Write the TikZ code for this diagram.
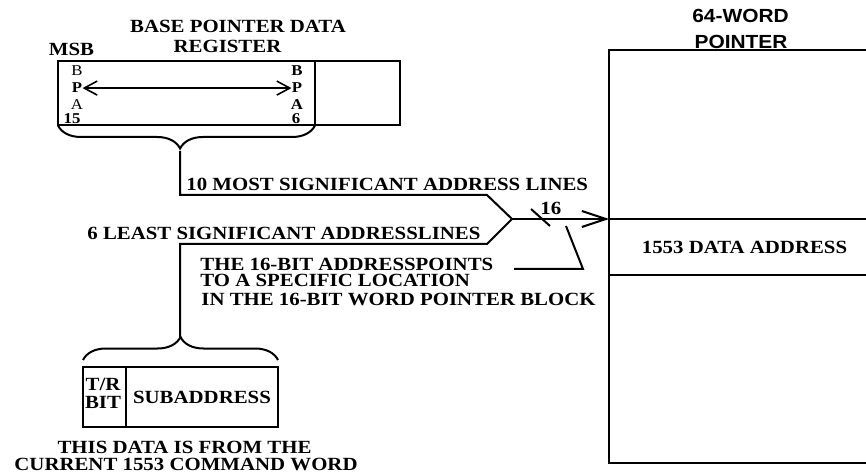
\documentclass[tikz,border=0pt]{standalone}
\usepackage{fontspec}
\setmainfont{Liberation Serif}[FakeStretch=1.12]
\setsansfont{Liberation Sans}[FakeStretch=1.1]
\usetikzlibrary{positioning}
\usetikzlibrary{calc}
\usetikzlibrary{arrows.meta}
\usetikzlibrary{decorations.pathreplacing}

\tikzset{
	box/.style={draw, line width=1pt, inner sep=0pt, outer sep=0pt},
	lbl/.style={font=\fontsize{9.3}{11}\selectfont\bfseries, inner sep=0pt},
	hdr/.style={font=\fontsize{9.5}{11}\selectfont\sffamily\bfseries, inner sep=0pt},
	bit/.style={font=\fontsize{7.5}{9}\selectfont, inner sep=0pt},
	wire/.style={line width=1pt},
	brc/.style={line width=1pt, decorate, decoration={brace, amplitude=11.5pt}}
}

\begin{document}
\begin{tikzpicture}[x=0.5pt,y=-0.5pt]
	\useasboundingbox (0,0) rectangle (866,475);

	% base pointer data register
	\node[box, minimum width=128.5pt, minimum height=32pt] (regA) at (186.5,93.5) {};
	\node[box, minimum width=42.5pt, minimum height=32pt, right=0pt of regA] (regB) {};
	\node[lbl, anchor=base] (regtitle) at (238,33) {BASE POINTER DATA};
	\node[lbl, anchor=base] (regtitleb) at (227.5,53) {REGISTER};
	\node[lbl, anchor=base] (msb) at (71.5,56) {MSB};

	\node[bit, anchor=base] (bpaB) at (77,76) {B};
	\node[bit, anchor=base] (bpaP) at (77,93) {\bfseries P};
	\node[bit, anchor=base] (bpaA) at (77,110) {A};
	\node[bit, anchor=base] (bpaN) at (72,124) {\bfseries 15};
	\node[bit, anchor=base] (bpbB) at (297,76) {\bfseries B};
	\node[bit, anchor=base] (bpbP) at (297,93) {\bfseries P};
	\node[bit, anchor=base] (bpbA) at (297,110) {\bfseries A};
	\node[bit, anchor=base] (bpbN) at (296,124) {\bfseries 6};
	\draw[wire, line width=0.8pt, {Straight Barb[length=6.5pt,width=7pt]}-{Straight Barb[length=6.5pt,width=7pt]}] (bpaP.east) -- (bpbP.west);

	% 64-word pointer block
	\node[box, minimum width=135.5pt, minimum height=84.5pt] (ptrtop) at (744.5,134.5) {};
	\node[box, lbl, minimum width=135.5pt, minimum height=28pt, below=0pt of ptrtop] (dataaddr) {1553 DATA ADDRESS};
	\node[box, minimum width=135.5pt, minimum height=94pt, below=0pt of dataaddr] (ptrbot) {};
	\node[hdr, anchor=base] (ptrtitle) at (740.5,23) {64-WORD};
	\node[hdr, anchor=base] (ptrtitleb) at (741,49) {POINTER};

	% command word
	\node[box, minimum width=21.5pt, minimum height=30pt] (trbit) at (104.5,397) {};
	\node[box, lbl, minimum width=76pt, minimum height=30pt, right=0pt of trbit] (subaddr) {SUBADDRESS};
	\node[lbl, anchor=base] (trtxt) at (103,390) {T/R};
	\node[lbl, anchor=base] (bittxt) at (103,408) {BIT};
	\node[lbl, anchor=base] (cmdtxt) at (184.5,453) {THIS DATA IS FROM THE};
	\node[lbl, anchor=base] (cmdtxtb) at (186,470) {CURRENT 1553 COMMAND WORD};

	% braces
	\draw[brc, decoration={aspect=0.525}] (regB.south west) -- (regA.south west);
	\draw[brc] ($(trbit.north west)+(0,-7)$) -- ($(subaddr.north east)+(0,-7)$);

	% address lines
	\coordinate (tipA) at (180,151);
	\coordinate (tipB) at (180,337);
	\coordinate (hi) at (487,195);
	\coordinate (lo) at (487,244);
	\coordinate (junc) at (512,219);
	\draw[wire] (tipA) |- (hi) -- (junc);
	\draw[wire] (tipB) |- (lo) -- (junc);
	\draw[wire, -{Straight Barb[length=12pt,width=8pt]}] (junc) -- (dataaddr.north west);
	\node[lbl, anchor=base west] (msblines) at (186,191) {10 MOST SIGNIFICANT ADDRESS LINES};
	\node[lbl, anchor=base west] (lsblines) at (87,240) {6 LEAST SIGNIFICANT ADDRESSLINES};

	% bus width
	\coordinate (slA) at (531,209);
	\coordinate (slB) at (550,226);
	\draw[wire] (slA) -- (slB);
	\node[lbl, anchor=base west] (buswidth) at (540,215) {16};

	% note
	\coordinate (ptrA) at (566,226);
	\coordinate (ptrB) at (583,269);
	\coordinate (ptrC) at (514,269);
	\draw[wire] (ptrA) -- (ptrB) -- (ptrC);
	\node[lbl, anchor=base west] (note) at (200,271) {THE 16-BIT ADDRESSPOINTS};
	\node[lbl, anchor=base west] (noteb) at (200,287) {TO A SPECIFIC LOCATION};
	\node[lbl, anchor=base west] (notec) at (201,306) {IN THE 16-BIT WORD POINTER BLOCK};
\end{tikzpicture}
\end{document}
